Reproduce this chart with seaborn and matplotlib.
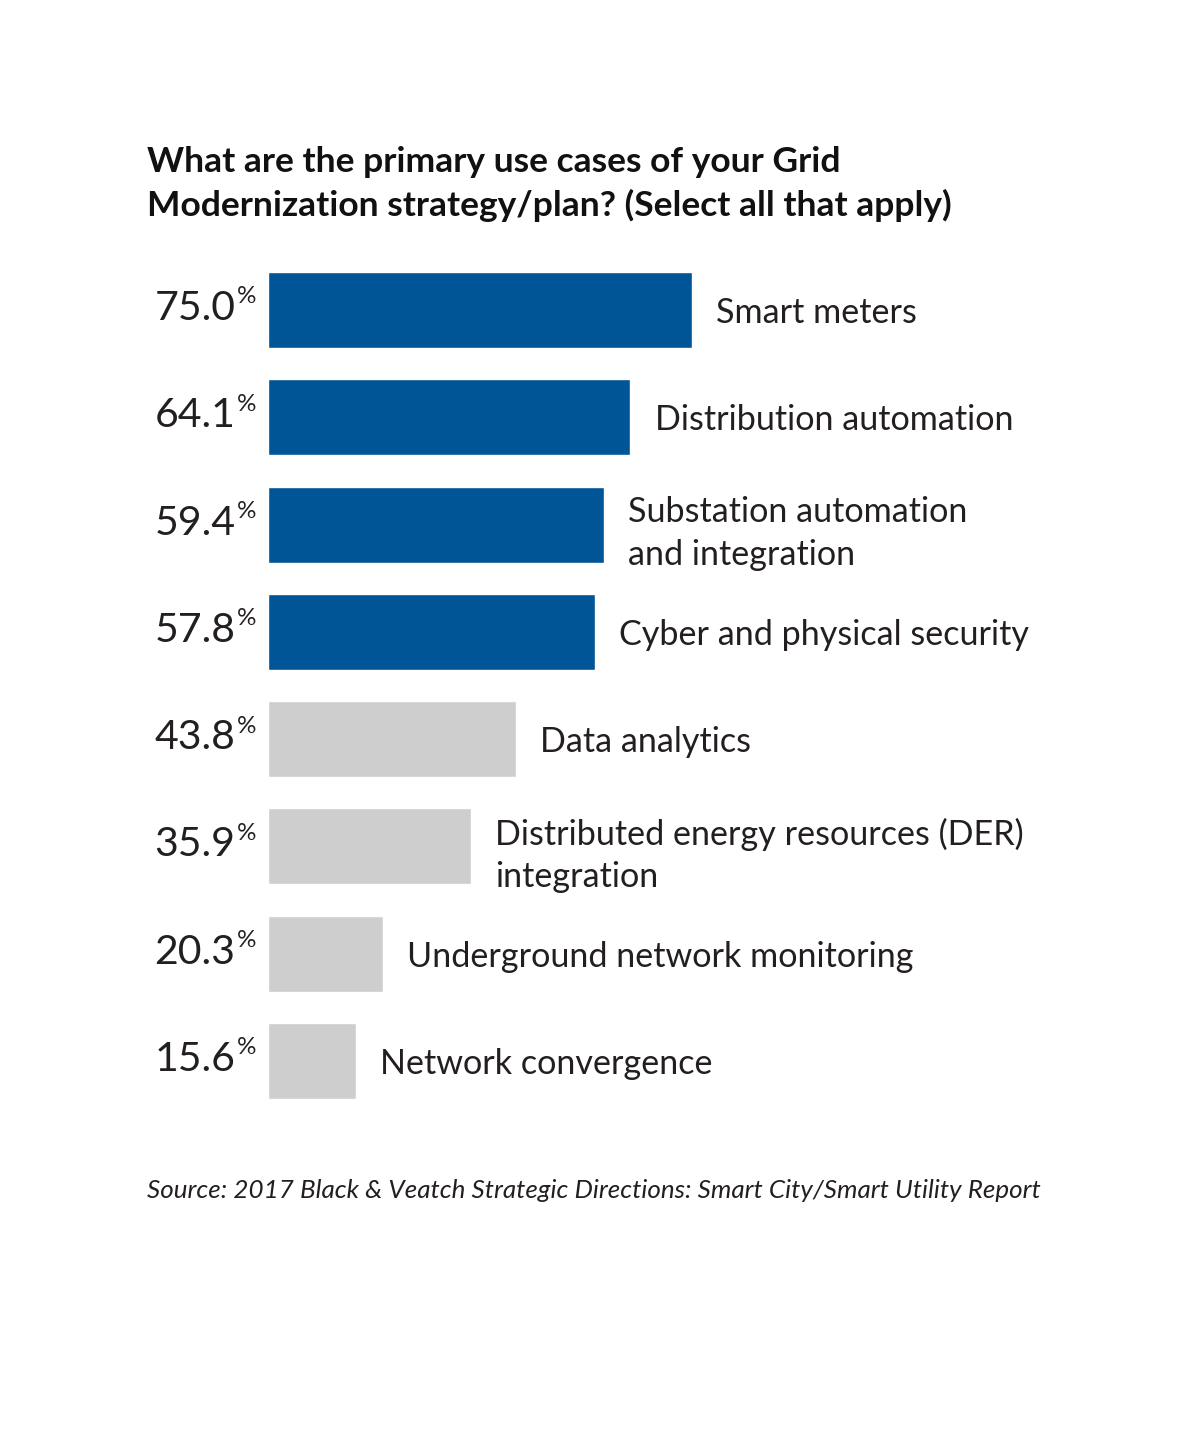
import matplotlib
matplotlib.use("Agg")
import matplotlib.pyplot as plt
import seaborn as sns
import pandas as pd

categories = ["Smart meters", "Distribution automation",
              "Substation automation\nand integration",
              "Cyber and physical security", "Data analytics",
              "Distributed energy resources (DER)\nintegration",
              "Underground network monitoring", "Network convergence"]
values = [75.0, 64.1, 59.4, 57.8, 43.8, 35.9, 20.3, 15.6]
value_labels = ["75.0", "64.1", "59.4", "57.8", "43.8", "35.9", "20.3", "15.6"]
highlight = [True, True, True, True, False, False, False, False]

BLUE = "#005596"
GRAY = "#cdcecd"
TXT = "#231f20"

sns.set_theme(style="white")
plt.rcParams['font.family'] = ['Lato', 'DejaVu Sans']

df = pd.DataFrame({"cat": categories, "val": values,
                   "grp": ["hi" if h else "lo" for h in highlight]})

fig = plt.figure(figsize=(12, 14.54), dpi=100)
ax = fig.add_axes([268/1200, 1 - 1114.7/1454, 848/1200, (1114.7-256.3)/1454])

sns.barplot(data=df, x="val", y="cat", hue="grp", palette={"hi": BLUE, "lo": GRAY},
            dodge=False, width=0.708, legend=False, ax=ax, saturation=1)
ax.set_xlim(0, 150)
ax.set_ylim(7.5, -0.5)
ax.set_axis_off()

for i, (v, lab, cat) in enumerate(zip(values, value_labels, categories)):
    ax.annotate(lab, xy=(0, i), xytext=(-23.5, -7.2), textcoords="offset points",
                ha="right", va="baseline", fontsize=29.5, fontweight="normal", color=TXT)
    ax.annotate("%", xy=(0, i), xytext=(-22.6, 17.0), textcoords="offset points",
                ha="left", va="top", fontsize=17.5, fontweight="normal", color=TXT)
    dy = -6.5 if "\n" in cat else -2.0
    ax.annotate(cat, xy=(v, i), xytext=(17.5, dy), textcoords="offset points",
                ha="left", va="center", fontsize=24.6, color=TXT, linespacing=1.4)

fig.text(147/1200, 1 - 172/1454, "What are the primary use cases of your Grid",
         ha="left", va="baseline", fontsize=25.5, fontweight="bold", color="#111111")
fig.text(147/1200, 1 - 216/1454, "Modernization strategy/plan? (Select all that apply)",
         ha="left", va="baseline", fontsize=25.5, fontweight="bold", color="#111111")
fig.text(147/1200, 1 - 1190/1454,
         "Source: 2017 Black & Veatch Strategic Directions: Smart City/Smart Utility Report",
         ha="left", va="center", fontsize=18.75, style="italic", color=TXT)

fig.savefig("out.png", dpi=100, facecolor="white")
